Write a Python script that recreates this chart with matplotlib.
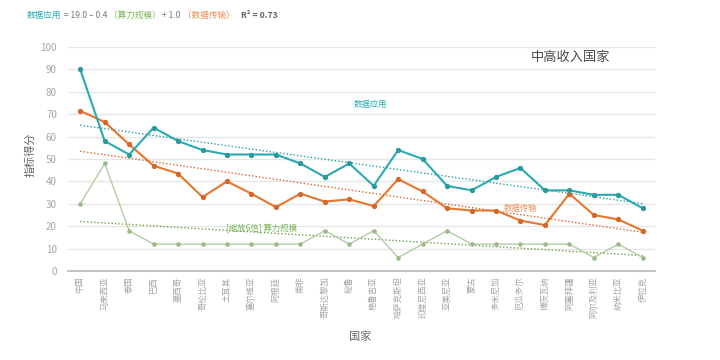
import numpy as np
import matplotlib
matplotlib.use("Agg")
import matplotlib.pyplot as plt

plt.rcParams['font.family'] = ['Noto Sans CJK SC', 'DejaVu Sans']

countries = ["中国", "马来西亚", "泰国", "巴西", "墨西哥", "哥伦比亚", "土耳其", "塞尔维亚",
             "阿根廷", "南非", "哥斯达黎加", "秘鲁", "格鲁吉亚", "哈萨克斯坦", "印度尼西亚",
             "亚美尼亚", "蒙古", "多米尼加", "厄瓜多尔", "博茨瓦纳", "阿塞拜疆", "阿尔及利亚",
             "纳米比亚", "伊拉克"]
data_app = [90, 58, 52, 64, 58, 54, 52, 52, 52, 48, 42, 48, 38, 54, 50, 38, 36, 42, 46, 36, 36, 34, 34, 28]
data_trans = [71.5, 66.5, 56.5, 47, 43.5, 33, 40, 34.5, 28.5, 34.5, 31, 32, 29, 41, 35.5, 28, 27, 27,
              22.5, 20.5, 34.5, 25, 23, 18]
compute = [30, 48, 18, 12, 12, 12, 12, 12, 12, 12, 18, 12, 18, 6, 12, 18, 12, 12, 12, 12, 12, 6, 12, 6]
yticks = [0, 10, 20, 30, 40, 50, 60, 70, 80, 90, 100]

teal = "#2AAAB0"
orange = "#E5762F"
green = "#B2CCA4"
teal_tr = "#2A9C9E"
orange_tr = "#D9682C"
green_tr = "#6FA04E"

fig = plt.figure(figsize=(7.2, 3.6), dpi=100)
ax = fig.add_axes([68/720, 1-271/360, (655-68)/720, (271-47)/360])
x = np.arange(len(countries))

for v in yticks[1:]:
    ax.axhline(v, color="#E6E6E6", lw=1.0, zorder=0)

def trend(vals, color):
    p = np.polyfit(x, vals, 1)
    ax.plot(x, np.polyval(p, x), linestyle=(0, (1, 1.5)), color=color, lw=1.0, zorder=2)

trend(data_app, teal_tr)
trend(data_trans, orange_tr)
trend(compute, green_tr)

ax.plot(x, compute, color=green, lw=1.0, marker='o', ms=2.3, mfc="#9DB98C", mec="#9DB98C", zorder=3)
ax.plot(x, data_trans, color=orange, lw=1.5, marker='o', ms=2.8, mfc="#D2692A", mec="#D2692A", zorder=4)
ax.plot(x, data_app, color=teal, lw=1.5, marker='o', ms=2.8, mfc="#2A9A9E", mec="#2A9A9E", zorder=5)

ax.set_xlim(-0.5, len(countries) - 0.5)
ax.set_ylim(0, 100)
ax.set_yticks(yticks)
ax.set_yticklabels([str(v) for v in yticks], fontsize=7, color="#A5A5A5")
ax.set_xticks(x)
ax.set_xticklabels(countries, rotation=90, fontsize=6, color="#A5A5A5", va='top')
ax.tick_params(length=0, pad=4)
ax.tick_params(axis='y', pad=8)
for s in ["top", "right", "left"]:
    ax.spines[s].set_visible(False)
ax.spines["bottom"].set_color("#BDBDBD")
ax.spines["bottom"].set_linewidth(1.3)

fig.text(30/720, 1-155/360, "指标得分", fontsize=8, color="#666666", rotation=90, ha='center', va='center')
fig.text(360/720, 1-337/360, "国家", fontsize=8, color="#666666", ha='center', va='center')

fig.text(570/720, 1-57/360, "中高收入国家", fontsize=9.5, color="#4A4A4A", ha='center', va='center',
         fontweight='medium')
fig.text(370/720, 1-104/360, "数据应用", fontsize=6, color=teal, ha='center', va='center')
fig.text(520/720, 1-208/360, "数据传输", fontsize=6, color="#EE8A55", ha='center', va='center')
fig.text(262/720, 1-228/360, "[缩放6倍] 算力规模", fontsize=6, color="#7CB55A", ha='center', va='center')

# colored title pieces
pieces = [("数据应用", teal), (" = 19.0 – 0.4 ", "#777777"), ("（算力规模）", "#7CB55A"),
          (" + 1.0 ", "#777777"), ("（数据传输）", "#EE8A55"), ("   R² = 0.73", "#666666")]
fig.canvas.draw()
renderer = fig.canvas.get_renderer()
xpos = 27
for txt, col in pieces:
    t = fig.text(xpos/720, 1-15/360, txt, fontsize=6.2, color=col, ha='left', va='center',
                 fontweight='bold' if txt.strip().startswith("R") else 'normal')
    bb = t.get_window_extent(renderer=renderer)
    xpos += bb.width

fig.savefig("out.png", dpi=100)
